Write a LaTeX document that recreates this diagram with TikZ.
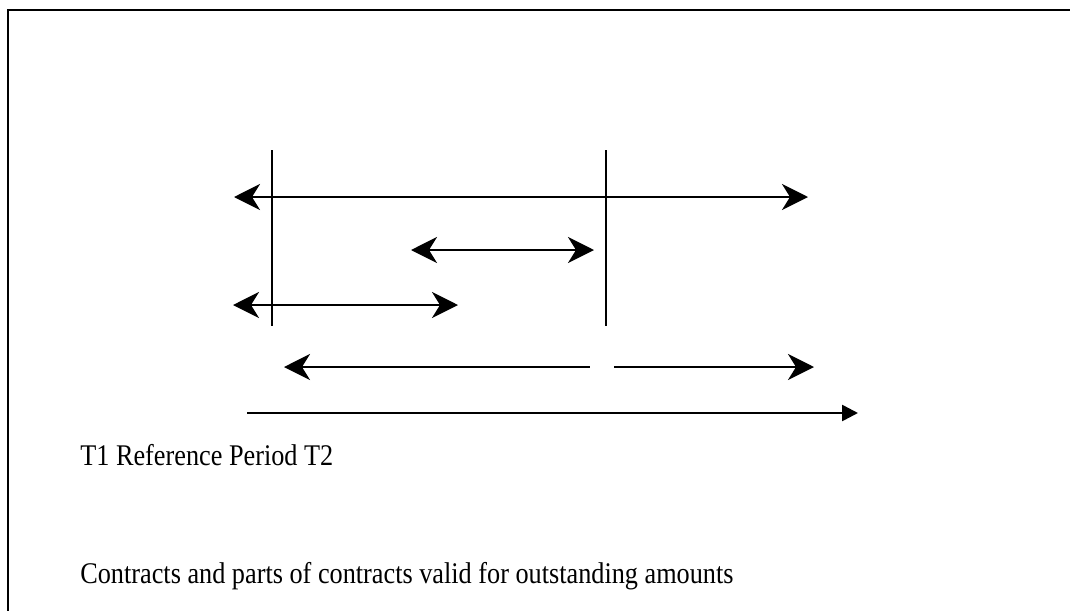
\documentclass[tikz,border=0pt]{standalone}
\usepackage{fontspec}
\setmainfont{Liberation Serif}
\usetikzlibrary{arrows.meta}
\tikzset{
	period/.style={line width=0.9pt},
	contract/.style={line width=1.3pt, {Stealth[length=13pt, width=13pt, inset=4pt]}-{Stealth[length=13pt, width=13pt, inset=4pt]}},
	leftpart/.style={line width=1.3pt, {Stealth[length=13pt, width=13pt, inset=4pt]}-},
	rightpart/.style={line width=1.3pt, -{Stealth[length=13pt, width=13pt, inset=4pt]}},
	timeaxis/.style={line width=1.3pt, -{Triangle[length=8pt, width=8pt]}},
	frameline/.style={line width=1.4pt},
	caption/.style={anchor=base west, inner sep=0pt, xscale=0.875, font=\fontsize{15}{18}\selectfont}
}
\begin{document}
\begin{tikzpicture}[x=0.5pt, y=-0.5pt]
		\useasboundingbox (0,0) rectangle (1070,611);
		
		%Frame
		\coordinate (frameTop) at (1070,10);
		\coordinate (frameCorner) at (8,10);
		\coordinate (frameBottom) at (8,611);
		\draw[frameline] (frameTop) -- (frameCorner) -- (frameBottom);
		
		%Limits of the reference period
		\coordinate (firstTop) at (272,150);
		\coordinate (firstBottom) at (272,326);
		\coordinate (secondTop) at (606,150);
		\coordinate (secondBottom) at (606,326);
		\draw[period] (firstTop) -- (firstBottom);
		\draw[period] (secondTop) -- (secondBottom);
		
		%Contracts
		\coordinate (longStart) at (234,197);
		\coordinate (longEnd) at (808,197);
		\draw[contract] (longStart) -- (longEnd);
		
		\coordinate (innerStart) at (411,250);
		\coordinate (innerEnd) at (594,250);
		\draw[contract] (innerStart) -- (innerEnd);
		
		\coordinate (earlyStart) at (233,305);
		\coordinate (earlyEnd) at (458,305);
		\draw[contract] (earlyStart) -- (earlyEnd);
		
		%Contract split in two parts
		\coordinate (splitStart) at (284,367);
		\coordinate (splitLeft) at (590,367);
		\coordinate (splitRight) at (614,367);
		\coordinate (splitEnd) at (814,367);
		\draw[leftpart] (splitStart) -- (splitLeft);
		\draw[rightpart] (splitRight) -- (splitEnd);
		
		%Time axis
		\coordinate (axisStart) at (247,413);
		\coordinate (axisEnd) at (858,413);
		\draw[timeaxis] (axisStart) -- (axisEnd);
		
		%Texts
		\node (periodLabel) at (80,465) [caption]{T1 Reference Period T2};
		\node (bottomLabel) at (80,583) [caption]{Contracts and parts of contracts valid for outstanding amounts};
\end{tikzpicture}
\end{document}
